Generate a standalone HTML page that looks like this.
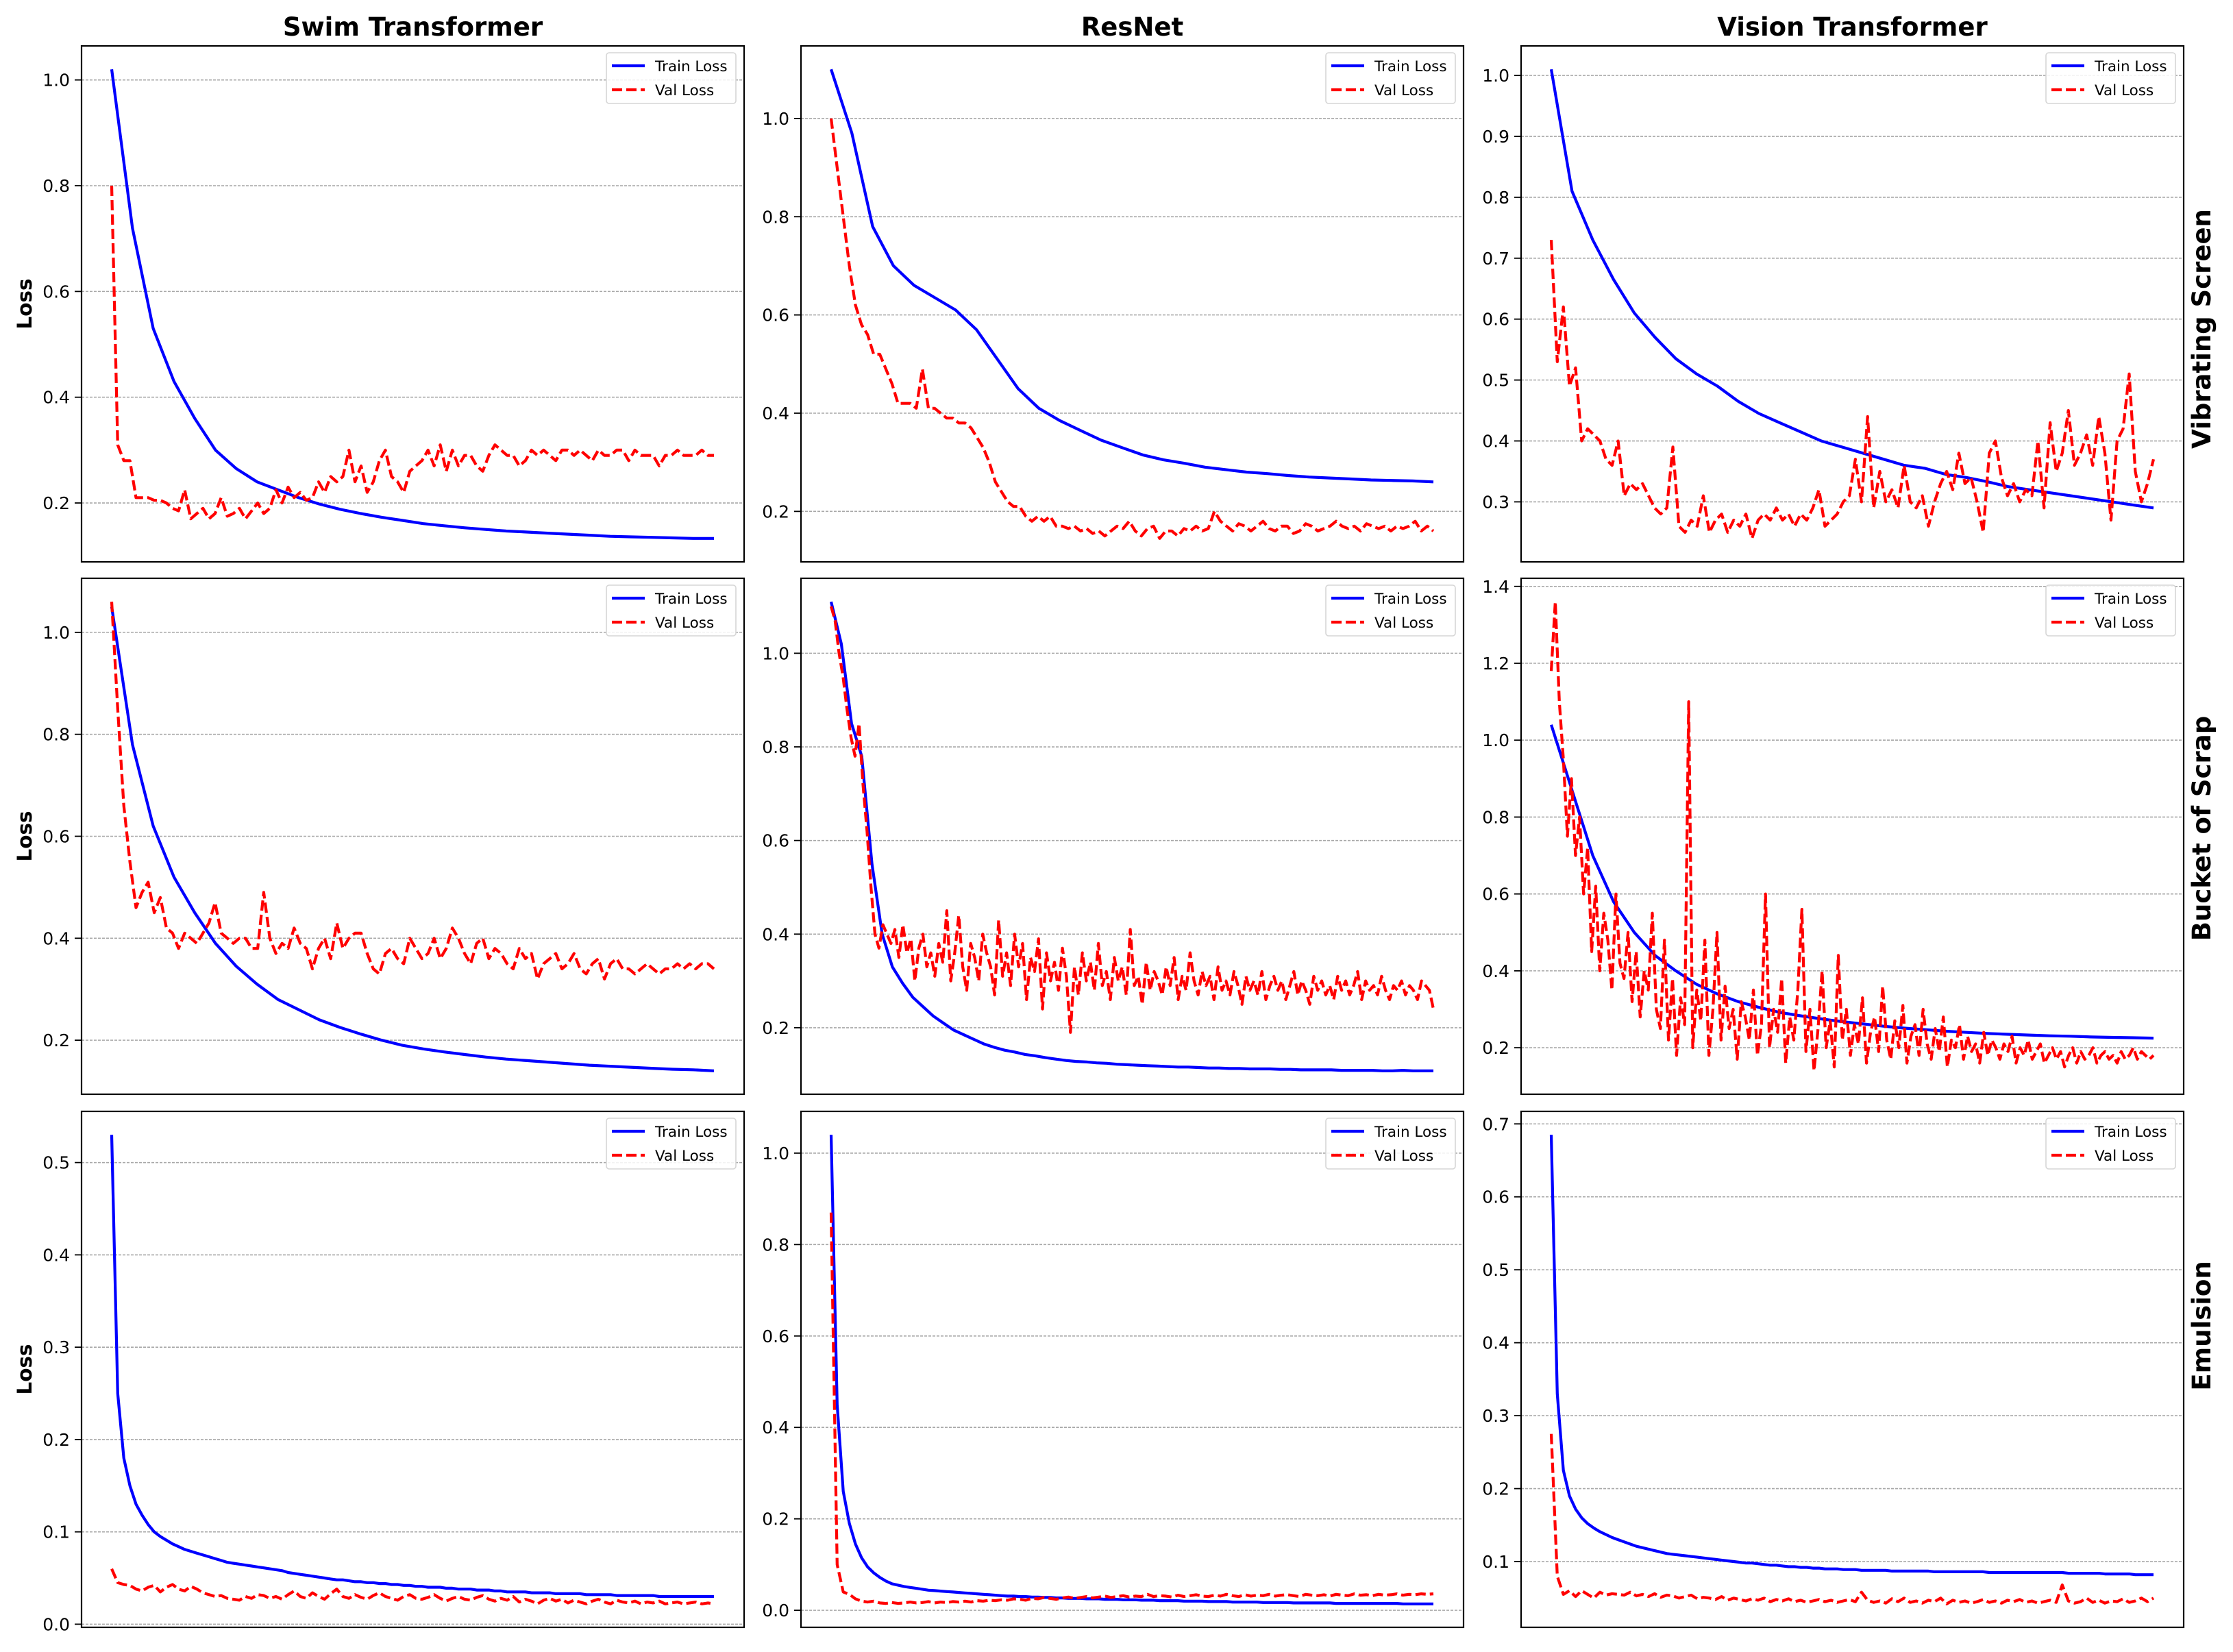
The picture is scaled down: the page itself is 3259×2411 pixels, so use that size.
<!DOCTYPE html>
<html><head><meta charset="utf-8"><style>
html,body{margin:0;padding:0;background:#fff;}
svg{display:block;font-family:"DejaVu Sans","Liberation Sans",sans-serif;}
</style></head><body>
<svg id="fig" xmlns="http://www.w3.org/2000/svg" width="3259" height="2411" viewBox="0 0 3259 2411">
<rect width="3259" height="2411" fill="#fff"/>
</svg>
<script>
// ---- data: one set of arrays per panel ----
const colTitles = ["Swim Transformer", "ResNet", "Vision Transformer"];
const rowTitles = ["Vibrating Screen", "Bucket of Scrap", "Emulsion"];

const trainSwimVib = [1.02,0.72,0.53,0.43,0.36,0.30,0.265,0.24,0.225,0.21,0.198,0.188,0.18,0.173,0.167,0.161,0.157,0.153,0.15,0.147,0.145,0.143,0.141,0.139,0.137,0.136,0.135,0.134,0.133,0.133];
const valSwimVib = [0.80,0.31,0.28,0.28,0.21,0.21,0.21,0.205,0.205,0.20,0.19,0.185,0.225,0.17,0.18,0.19,0.17,0.18,0.21,0.175,0.18,0.19,0.17,0.185,0.20,0.18,0.19,0.225,0.20,0.23,0.21,0.22,0.205,0.21,0.24,0.22,0.25,0.24,0.25,0.30,0.24,0.27,0.22,0.24,0.28,0.30,0.25,0.24,0.22,0.26,0.27,0.28,0.30,0.27,0.31,0.26,0.30,0.27,0.29,0.29,0.27,0.26,0.29,0.31,0.30,0.29,0.29,0.27,0.28,0.30,0.29,0.30,0.29,0.28,0.30,0.30,0.29,0.30,0.29,0.28,0.30,0.29,0.29,0.30,0.30,0.28,0.30,0.29,0.29,0.29,0.27,0.29,0.29,0.30,0.29,0.29,0.29,0.30,0.29,0.29];
const ticksSwimVib = [0.2,0.4,0.6,0.8,1.0];

const trainResVib = [1.10,0.97,0.78,0.70,0.66,0.635,0.61,0.57,0.51,0.45,0.41,0.385,0.365,0.345,0.33,0.315,0.305,0.298,0.29,0.285,0.28,0.277,0.273,0.27,0.268,0.266,0.264,0.263,0.262,0.26];
const valResVib = [1.0,0.9,0.8,0.7,0.62,0.58,0.56,0.52,0.52,0.49,0.46,0.42,0.42,0.42,0.41,0.49,0.41,0.41,0.40,0.39,0.39,0.38,0.38,0.37,0.35,0.33,0.30,0.26,0.24,0.22,0.21,0.21,0.19,0.18,0.19,0.18,0.19,0.17,0.17,0.165,0.17,0.16,0.165,0.155,0.16,0.15,0.16,0.17,0.165,0.18,0.16,0.15,0.165,0.17,0.145,0.16,0.16,0.15,0.165,0.16,0.17,0.16,0.165,0.2,0.18,0.17,0.16,0.175,0.17,0.16,0.17,0.18,0.165,0.16,0.17,0.17,0.155,0.16,0.175,0.17,0.16,0.165,0.17,0.18,0.17,0.165,0.17,0.16,0.175,0.17,0.165,0.17,0.16,0.17,0.165,0.17,0.18,0.16,0.17,0.16];
const ticksResVib = [0.2,0.4,0.6,0.8,1.0];

const trainVitVib = [1.01,0.81,0.73,0.665,0.61,0.57,0.535,0.51,0.49,0.465,0.445,0.43,0.415,0.40,0.39,0.38,0.37,0.36,0.355,0.345,0.34,0.333,0.325,0.32,0.315,0.31,0.305,0.30,0.295,0.29];
const valVitVib = [0.73,0.53,0.62,0.49,0.52,0.40,0.42,0.41,0.40,0.37,0.36,0.40,0.31,0.33,0.32,0.33,0.31,0.29,0.28,0.29,0.39,0.26,0.25,0.27,0.26,0.31,0.25,0.27,0.28,0.25,0.27,0.26,0.28,0.24,0.27,0.28,0.27,0.29,0.27,0.28,0.26,0.28,0.27,0.29,0.32,0.26,0.27,0.28,0.30,0.31,0.37,0.30,0.44,0.29,0.35,0.30,0.32,0.29,0.36,0.30,0.29,0.31,0.26,0.30,0.33,0.35,0.32,0.38,0.33,0.34,0.30,0.25,0.38,0.40,0.34,0.31,0.33,0.30,0.32,0.31,0.40,0.29,0.43,0.35,0.38,0.45,0.36,0.38,0.41,0.36,0.44,0.38,0.27,0.40,0.42,0.51,0.35,0.30,0.33,0.37];
const ticksVitVib = [0.3,0.4,0.5,0.6,0.7,0.8,0.9,1.0];

const trainSwimBuc = [1.05,0.78,0.62,0.52,0.45,0.39,0.345,0.31,0.28,0.26,0.24,0.225,0.212,0.20,0.19,0.183,0.177,0.172,0.167,0.163,0.16,0.157,0.154,0.151,0.149,0.147,0.145,0.143,0.142,0.14];
const valSwimBuc = [1.06,0.85,0.66,0.55,0.46,0.49,0.51,0.45,0.48,0.42,0.41,0.38,0.41,0.40,0.39,0.41,0.43,0.47,0.41,0.40,0.39,0.40,0.40,0.38,0.38,0.49,0.40,0.37,0.39,0.38,0.42,0.39,0.38,0.34,0.38,0.40,0.36,0.43,0.38,0.40,0.41,0.41,0.37,0.34,0.33,0.37,0.38,0.36,0.35,0.40,0.38,0.36,0.37,0.40,0.36,0.38,0.42,0.40,0.37,0.35,0.39,0.40,0.36,0.38,0.37,0.35,0.34,0.38,0.36,0.37,0.32,0.35,0.36,0.37,0.34,0.35,0.37,0.34,0.33,0.35,0.36,0.32,0.35,0.36,0.34,0.34,0.33,0.34,0.35,0.34,0.33,0.34,0.34,0.35,0.34,0.35,0.34,0.35,0.35,0.34];
const ticksSwimBuc = [0.2,0.4,0.6,0.8,1.0];

const trainResBuc = [1.11,1.02,0.85,0.78,0.55,0.40,0.33,0.295,0.265,0.245,0.225,0.21,0.195,0.185,0.175,0.165,0.158,0.152,0.148,0.143,0.14,0.136,0.133,0.13,0.128,0.127,0.125,0.124,0.122,0.121,0.12,0.119,0.118,0.117,0.116,0.116,0.115,0.114,0.114,0.113,0.113,0.112,0.112,0.112,0.111,0.111,0.11,0.11,0.11,0.11,0.109,0.109,0.109,0.109,0.108,0.108,0.109,0.108,0.108,0.108];
const valResBuc = [1.10,1.07,1.0,0.95,0.88,0.82,0.78,0.85,0.72,0.62,0.5,0.40,0.37,0.42,0.40,0.38,0.41,0.35,0.42,0.36,0.39,0.30,0.37,0.40,0.33,0.36,0.31,0.38,0.34,0.45,0.30,0.36,0.44,0.33,0.28,0.38,0.35,0.30,0.40,0.36,0.33,0.27,0.43,0.31,0.36,0.29,0.40,0.33,0.38,0.26,0.35,0.32,0.39,0.24,0.36,0.30,0.34,0.28,0.37,0.31,0.19,0.33,0.27,0.36,0.30,0.34,0.28,0.38,0.29,0.32,0.26,0.35,0.30,0.33,0.27,0.41,0.29,0.31,0.25,0.34,0.28,0.32,0.30,0.27,0.33,0.29,0.35,0.26,0.31,0.28,0.36,0.30,0.27,0.32,0.29,0.31,0.26,0.33,0.28,0.30,0.27,0.32,0.29,0.25,0.31,0.28,0.30,0.27,0.32,0.26,0.29,0.31,0.28,0.30,0.26,0.29,0.32,0.27,0.30,0.28,0.25,0.31,0.28,0.30,0.27,0.29,0.26,0.31,0.28,0.30,0.27,0.29,0.32,0.26,0.30,0.28,0.29,0.27,0.31,0.28,0.26,0.29,0.28,0.30,0.27,0.29,0.28,0.26,0.30,0.29,0.28,0.24];
const ticksResBuc = [0.2,0.4,0.6,0.8,1.0];

const trainVitBuc = [1.04,0.87,0.70,0.58,0.50,0.44,0.40,0.365,0.34,0.32,0.305,0.292,0.283,0.275,0.268,0.262,0.256,0.251,0.247,0.243,0.24,0.237,0.235,0.233,0.231,0.23,0.228,0.227,0.226,0.225];
const valVitBuc = [1.18,1.36,1.10,0.95,0.75,0.90,0.70,0.80,0.60,0.72,0.45,0.62,0.40,0.55,0.48,0.35,0.60,0.42,0.38,0.50,0.32,0.45,0.28,0.40,0.35,0.55,0.30,0.25,0.48,0.22,0.38,0.18,0.33,0.26,1.10,0.20,0.35,0.27,0.48,0.18,0.30,0.50,0.22,0.36,0.25,0.30,0.17,0.32,0.28,0.22,0.35,0.18,0.26,0.60,0.20,0.30,0.24,0.38,0.16,0.28,0.22,0.35,0.56,0.19,0.30,0.14,0.25,0.40,0.20,0.27,0.15,0.44,0.22,0.30,0.18,0.26,0.21,0.33,0.16,0.24,0.28,0.19,0.36,0.22,0.17,0.27,0.20,0.31,0.16,0.23,0.26,0.18,0.30,0.21,0.17,0.25,0.19,0.28,0.15,0.22,0.20,0.26,0.17,0.23,0.19,0.21,0.16,0.24,0.18,0.22,0.20,0.17,0.21,0.19,0.23,0.16,0.20,0.18,0.22,0.17,0.19,0.21,0.16,0.18,0.20,0.17,0.19,0.15,0.18,0.20,0.16,0.19,0.17,0.18,0.20,0.16,0.18,0.19,0.17,0.18,0.16,0.19,0.17,0.18,0.20,0.17,0.19,0.18,0.17,0.18];
const ticksVitBuc = [0.2,0.4,0.6,0.8,1.0,1.2,1.4];

const trainSwimEmu = [0.53,0.25,0.18,0.15,0.13,0.118,0.108,0.100,0.095,0.091,0.087,0.084,0.081,0.079,0.077,0.075,0.073,0.071,0.069,0.067,0.066,0.065,0.064,0.063,0.062,0.061,0.060,0.059,0.058,0.056,0.055,0.054,0.053,0.052,0.051,0.050,0.049,0.048,0.048,0.047,0.046,0.046,0.045,0.045,0.044,0.044,0.043,0.043,0.042,0.042,0.041,0.041,0.040,0.040,0.040,0.039,0.039,0.038,0.038,0.038,0.037,0.037,0.037,0.036,0.036,0.035,0.035,0.035,0.035,0.034,0.034,0.034,0.034,0.033,0.033,0.033,0.033,0.033,0.032,0.032,0.032,0.032,0.032,0.031,0.031,0.031,0.031,0.031,0.031,0.031,0.030,0.030,0.030,0.030,0.030,0.030,0.030,0.030,0.030,0.030];
const valSwimEmu = [0.060,0.045,0.043,0.042,0.038,0.036,0.040,0.042,0.035,0.040,0.043,0.038,0.036,0.041,0.038,0.034,0.032,0.030,0.031,0.028,0.027,0.026,0.030,0.028,0.032,0.031,0.028,0.030,0.027,0.032,0.036,0.030,0.028,0.034,0.030,0.027,0.033,0.038,0.030,0.028,0.032,0.029,0.027,0.031,0.034,0.030,0.028,0.026,0.030,0.032,0.028,0.027,0.029,0.032,0.028,0.025,0.028,0.030,0.027,0.026,0.029,0.031,0.027,0.025,0.028,0.026,0.030,0.024,0.027,0.025,0.022,0.026,0.028,0.025,0.027,0.023,0.026,0.024,0.022,0.025,0.027,0.024,0.022,0.026,0.024,0.023,0.025,0.022,0.024,0.023,0.025,0.022,0.023,0.024,0.022,0.023,0.024,0.022,0.023,0.022];
const ticksSwimEmu = [0.0,0.1,0.2,0.3,0.4,0.5];

const trainResEmu = [1.04,0.45,0.26,0.19,0.145,0.115,0.095,0.082,0.072,0.064,0.058,0.055,0.052,0.05,0.048,0.046,0.044,0.043,0.042,0.041,0.04,0.039,0.038,0.037,0.036,0.035,0.034,0.033,0.032,0.031,0.031,0.030,0.030,0.029,0.029,0.028,0.028,0.027,0.027,0.026,0.026,0.026,0.025,0.025,0.025,0.024,0.024,0.024,0.023,0.023,0.023,0.022,0.022,0.022,0.021,0.021,0.021,0.021,0.020,0.020,0.020,0.020,0.019,0.019,0.019,0.019,0.018,0.018,0.018,0.018,0.018,0.017,0.017,0.017,0.017,0.017,0.016,0.016,0.016,0.016,0.016,0.016,0.016,0.015,0.015,0.015,0.015,0.015,0.015,0.015,0.015,0.015,0.015,0.015,0.014,0.014,0.014,0.014,0.014,0.014];
const valResEmu = [0.87,0.10,0.04,0.035,0.025,0.02,0.018,0.02,0.016,0.015,0.017,0.015,0.016,0.018,0.016,0.017,0.019,0.016,0.018,0.017,0.019,0.018,0.02,0.018,0.021,0.02,0.022,0.021,0.023,0.022,0.025,0.024,0.022,0.026,0.025,0.028,0.026,0.024,0.027,0.029,0.026,0.028,0.03,0.027,0.029,0.031,0.028,0.03,0.032,0.029,0.031,0.03,0.035,0.03,0.032,0.031,0.029,0.033,0.03,0.032,0.034,0.031,0.03,0.033,0.031,0.035,0.032,0.03,0.034,0.031,0.033,0.032,0.035,0.031,0.033,0.034,0.032,0.03,0.035,0.033,0.032,0.034,0.031,0.035,0.033,0.032,0.036,0.033,0.034,0.032,0.035,0.033,0.034,0.036,0.033,0.035,0.034,0.036,0.035,0.036];
const ticksResEmu = [0.0,0.2,0.4,0.6,0.8,1.0];

const trainVitEmu = [0.685,0.33,0.225,0.19,0.172,0.16,0.152,0.146,0.141,0.137,0.133,0.13,0.127,0.124,0.121,0.119,0.117,0.115,0.113,0.111,0.110,0.109,0.108,0.107,0.106,0.105,0.104,0.103,0.102,0.101,0.100,0.099,0.098,0.098,0.097,0.096,0.095,0.095,0.094,0.093,0.093,0.092,0.092,0.091,0.091,0.090,0.090,0.090,0.089,0.089,0.089,0.088,0.088,0.088,0.088,0.088,0.087,0.087,0.087,0.087,0.087,0.087,0.087,0.086,0.086,0.086,0.086,0.086,0.086,0.086,0.086,0.086,0.085,0.085,0.085,0.085,0.085,0.085,0.085,0.085,0.085,0.085,0.085,0.085,0.085,0.084,0.084,0.084,0.084,0.084,0.084,0.083,0.083,0.083,0.083,0.083,0.082,0.082,0.082,0.082];
const valVitEmu = [0.275,0.08,0.055,0.06,0.052,0.06,0.055,0.05,0.058,0.054,0.056,0.055,0.054,0.058,0.053,0.055,0.052,0.056,0.051,0.054,0.053,0.05,0.052,0.054,0.049,0.051,0.05,0.048,0.052,0.047,0.05,0.048,0.046,0.049,0.047,0.05,0.045,0.048,0.046,0.049,0.045,0.047,0.044,0.046,0.048,0.045,0.047,0.044,0.046,0.048,0.045,0.058,0.047,0.044,0.046,0.043,0.049,0.045,0.05,0.044,0.046,0.043,0.047,0.045,0.05,0.042,0.047,0.044,0.046,0.043,0.045,0.048,0.044,0.046,0.043,0.047,0.045,0.048,0.044,0.046,0.043,0.045,0.047,0.044,0.068,0.046,0.043,0.045,0.05,0.044,0.047,0.043,0.046,0.045,0.049,0.044,0.046,0.05,0.045,0.05];
const ticksVitEmu = [0.1,0.2,0.3,0.4,0.5,0.6,0.7];

const panels = [
  {key:"swim-vibrating", r:0,c:0,train:trainSwimVib,val:valSwimVib,ticks:ticksSwimVib},
  {key:"resnet-vibrating", r:0,c:1,train:trainResVib,val:valResVib,ticks:ticksResVib},
  {key:"vit-vibrating", r:0,c:2,train:trainVitVib,val:valVitVib,ticks:ticksVitVib},
  {key:"swim-bucket", r:1,c:0,train:trainSwimBuc,val:valSwimBuc,ticks:ticksSwimBuc},
  {key:"resnet-bucket", r:1,c:1,train:trainResBuc,val:valResBuc,ticks:ticksResBuc},
  {key:"vit-bucket", r:1,c:2,train:trainVitBuc,val:valVitBuc,ticks:ticksVitBuc},
  {key:"swim-emulsion", r:2,c:0,train:trainSwimEmu,val:valSwimEmu,ticks:ticksSwimEmu},
  {key:"resnet-emulsion", r:2,c:1,train:trainResEmu,val:valResEmu,ticks:ticksResEmu},
  {key:"vit-emulsion", r:2,c:2,train:trainVitEmu,val:valVitEmu,ticks:ticksVitEmu}
];

// ---- layout ----
const colX = [119, 1169, 2220];
const rowY = [67, 844, 1622];
const rowLabelY = [480, 1209, 1935];
const W = 967, H = 753;
const NS = "http://www.w3.org/2000/svg";
const svg = document.getElementById("fig");

function mk(tag, attrs, parent) {
  const e = document.createElementNS(NS, tag);
  for (const k in attrs) e.setAttribute(k, attrs[k]);
  (parent || svg).appendChild(e);
  return e;
}

panels.forEach(p => {
  const x0 = colX[p.c], y0 = rowY[p.r];
  const g = mk("g", {});
  
  
  const all = p.train.concat(p.val);
  let lo = Math.min(...all), hi = Math.max(...all);
  const m = (hi - lo) * 0.05; lo -= m; hi += m;
  const ys = v => y0 + H - (v - lo) / (hi - lo) * H;
  const xs = t => x0 + (t + 0.05) / 1.1 * W;

  p.ticks.forEach(t => {
    const y = ys(t);
    const gl = mk("line", {x1:x0, x2:x0+W, y1:y, y2:y, stroke:"#a8a8a8", "stroke-width":1.6, "stroke-dasharray":"4,2"}, g);
    
    
    const tk = mk("line", {x1:x0-10, x2:x0, y1:y, y2:y, stroke:"#000", "stroke-width":1.8}, g);
    
    
    const tl = mk("text", {x:x0-17, y:y+9, "text-anchor":"end", "font-size":25, fill:"#000"}, g);
    tl.textContent = t.toFixed(1);
    
    
  });

  function series(arr, color, dash, name) {
    const n = arr.length;
    const pts = arr.map((v, i) => xs(i / (n - 1)).toFixed(1) + "," + ys(v).toFixed(1)).join(" ");
    const a = {points:pts, fill:"none", stroke:color, "stroke-width":4.2, "stroke-linejoin":"round"};
    if (dash) a["stroke-dasharray"] = dash;
    const pl = mk("polyline", a, g);
    
    
  }
  series(p.train, "#0000ff", null, 'train-loss-line');
  series(p.val, "#ff0000", "15,6", 'val-loss-line');

  const frame = mk("rect", {x:x0, y:y0, width:W, height:H, fill:"none", stroke:"#000", "stroke-width":2.2}, g);
  
  

  const lg = mk("g", {}, g);
  
  
  const lx = x0 + W - 12 - 189, ly = y0 + 10;
  mk("rect", {x:lx, y:ly, width:189, height:74, rx:4, fill:"#fff", "fill-opacity":0.85, stroke:"#d6d6d6", "stroke-width":1.6}, lg);
  mk("line", {x1:lx+8, x2:lx+56, y1:ly+19, y2:ly+19, stroke:"#0000ff", "stroke-width":4.2}, lg);
  mk("line", {x1:lx+8, x2:lx+56, y1:ly+54, y2:ly+54, stroke:"#ff0000", "stroke-width":4.2, "stroke-dasharray":"15,6"}, lg);
  const t1 = mk("text", {x:lx+71, y:ly+27, "font-size":21.5, fill:"#000"}, lg);
  t1.textContent = "Train Loss";
  
  
  const t2 = mk("text", {x:lx+71, y:ly+62, "font-size":21.5, fill:"#000"}, lg);
  t2.textContent = "Val Loss";
  
  
});

colTitles.forEach((t, c) => {
  const e = mk("text", {x:colX[c]+W/2, y:52, "text-anchor":"middle", "font-size":37, "font-weight":"bold", fill:"#000"});
  e.textContent = t;
  
  
});
rowTitles.forEach((t, r) => {
  const e = mk("text", {x:0, y:0, transform:"translate(3226," + rowLabelY[r] + ") rotate(-90)", "text-anchor":"middle", "font-size":37, "font-weight":"bold", fill:"#000"});
  e.textContent = t;
  
  
  const l = mk("text", {x:0, y:0, transform:"translate(46," + (rowY[r] + H/2) + ") rotate(-90)", "text-anchor":"middle", "font-size":29.5, "font-weight":"bold", fill:"#000"});
  l.textContent = "Loss";
  
  
});
</script>
</body></html>
